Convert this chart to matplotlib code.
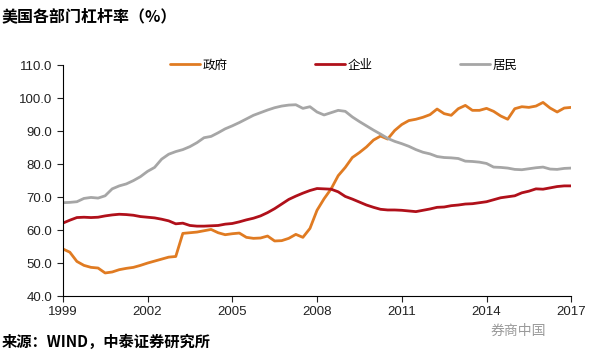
import numpy as np
import matplotlib
matplotlib.use('Agg')
import matplotlib.pyplot as plt

plt.rcParams['font.family'] = ['Liberation Sans', 'Noto Sans CJK SC', 'DejaVu Sans']

# quarterly, 1999Q1 .. 2017Q1
quarters = 1999 + np.arange(73) / 4

government = [
    54.3, 53.3, 50.5, 49.3, 48.7, 48.5, 47.0, 47.3, 48.0, 48.4, 48.7, 49.3,
    50.0, 50.6, 51.2, 51.8, 52.0, 59.0, 59.2, 59.4, 59.8, 60.2, 59.2, 58.6,
    58.9, 59.1, 57.8, 57.5, 57.6, 58.2, 56.7, 56.8, 57.5, 58.7, 57.8, 60.5,
    66.0, 69.5, 72.5, 76.5, 79.0, 82.0, 83.5, 85.2, 87.3, 88.5, 87.6, 90.2,
    92.0, 93.2, 93.6, 94.2, 95.0, 96.7, 95.3, 94.8, 96.8, 97.8, 96.3, 96.3,
    96.9, 96.0, 94.6, 93.6, 96.8, 97.4, 97.2, 97.6, 98.7, 97.0, 95.8, 97.0,
    97.2,
]
corporate = [
    62.1, 63.0, 63.8, 63.9, 63.8, 63.9, 64.3, 64.6, 64.8, 64.7, 64.5, 64.1,
    63.9, 63.7, 63.3, 62.8, 61.9, 62.1, 61.4, 61.2, 61.2, 61.3, 61.4, 61.8,
    62.0, 62.5, 63.1, 63.6, 64.3, 65.3, 66.5, 67.9, 69.3, 70.3, 71.2, 72.0,
    72.6, 72.5, 72.4, 71.6, 70.2, 69.4, 68.5, 67.6, 66.9, 66.3, 66.1, 66.1,
    66.0, 65.8, 65.6, 66.0, 66.4, 66.9, 67.0, 67.4, 67.6, 67.9, 68.0, 68.3,
    68.6, 69.2, 69.8, 70.1, 70.4, 71.3, 71.8, 72.5, 72.4, 72.8, 73.2, 73.4,
    73.4,
]
household = [
    68.3, 68.4, 68.6, 69.6, 69.9, 69.7, 70.4, 72.5, 73.4, 74.0, 75.0, 76.2,
    77.8, 79.0, 81.5, 83.0, 83.8, 84.4, 85.3, 86.5, 88.0, 88.4, 89.5, 90.7,
    91.6, 92.6, 93.7, 94.8, 95.6, 96.4, 97.1, 97.6, 97.9, 98.0, 96.9, 97.4,
    95.8, 94.9, 95.6, 96.3, 96.0, 94.3, 92.9, 91.6, 90.3, 89.1, 87.8, 86.9,
    86.2, 85.4, 84.4, 83.6, 83.1, 82.3, 82.0, 81.9, 81.7, 80.9, 80.8, 80.6,
    80.2, 79.1, 79.0, 78.8, 78.4, 78.3, 78.6, 78.9, 79.1, 78.5, 78.4, 78.7,
    78.8,
]

series_names = ['政府', '企业', '居民']
series_colors = ['#E07B22', '#B0101A', '#A6A6A6']
year_ticks = [1999, 2002, 2005, 2008, 2011, 2014, 2017]
value_ticks = [40, 50, 60, 70, 80, 90, 100, 110]

fig = plt.figure(figsize=(5.92, 3.58), dpi=100)
ax = fig.add_axes([0.106, 0.173, 0.859, 0.645])

for vals, name, col in zip([government, corporate, household], series_names, series_colors):
    ax.plot(quarters, vals, color=col, lw=2.0, label=name, solid_capstyle='round')

ax.set_xlim(1999, 2017)
ax.set_ylim(40, 110)
ax.set_xticks(year_ticks)
ax.set_yticks(value_ticks)
ax.set_yticklabels(['%.1f' % v for v in value_ticks])
ax.tick_params(labelsize=9.5, colors='#222222', length=4, width=0.8)
for s in ['top', 'right']:
    ax.spines[s].set_visible(False)
for s in ['left', 'bottom']:
    ax.spines[s].set_linewidth(0.8)

leg = ax.legend(loc='center', bbox_to_anchor=(0.553, 1.0), ncol=3, frameon=False,
                prop={'family': ['Noto Sans CJK SC'], 'size': 9},
                handlelength=2.4, handletextpad=0.2, columnspacing=7.0)

fig.text(0.003, 0.955, '美国各部门杠杆率（%）', fontsize=11.5, fontweight='bold',
         fontstyle='italic', family=['Noto Sans CJK SC', 'DejaVu Sans'], va='center')
fig.text(0.003, 0.045, '来源：WIND，中泰证券研究所', fontsize=11, fontweight='bold',
         fontstyle='italic', family=['Noto Sans CJK SC', 'DejaVu Sans'], va='center')
fig.text(0.922, 0.075, '券商中国', fontsize=10, color='#9a9a9a',
         family=['Noto Sans CJK SC'], ha='right', va='center')

fig.savefig('out.png', dpi=100)
